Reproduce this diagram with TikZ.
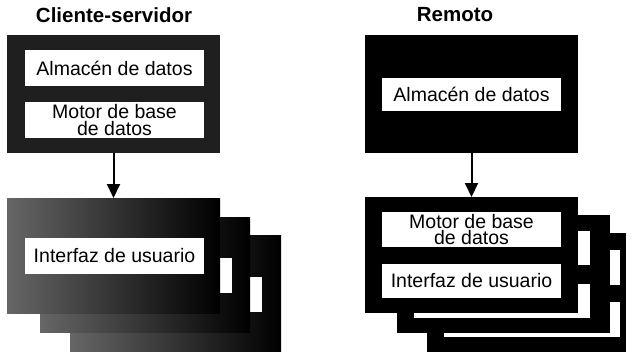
\documentclass[tikz,border=0pt]{standalone}
\usepackage{fontspec}
\setmainfont{Liberation Sans}
\usetikzlibrary{arrows.meta}
\begin{document}
\begin{tikzpicture}[x=1pt,y=-1pt,
  panel/.style={draw=none, fill=black, inner sep=0pt, outer sep=0pt, anchor=north west},
  greypanel/.style={panel, left color=black!60, right color=black},
  darkpanel/.style={panel, fill=black!88},
  whitebox/.style={fill=white, draw=none, inner sep=0pt, outer sep=0pt, anchor=north west},
  lbl/.style={whitebox, minimum width=179pt, minimum height=36pt, align=center, text=black,
    font=\fontsize{19.5}{16.5}\selectfont},
  title/.style={font=\fontsize{20.5}{24}\selectfont\bfseries, inner sep=0pt},
  link/.style={line width=2pt, -{Triangle[length=14pt,width=13pt]}}
]
\useasboundingbox (0,0) rectangle (636,351);
\clip (0,0) rectangle (636,351);

% ---------- left column: Cliente-servidor ----------
\node[title] (ltitle) at (114,15) {Cliente-servidor};
\node[darkpanel, minimum width=213pt, minimum height=118pt] (ltop) at (7,35) {};
\node[lbl] (lstore) at (25,50) {Almacén de datos};
\node[lbl] (lengine) at (25,102) {Motor de base\\de datos};

% stack (back to front)
\node[greypanel, minimum width=211pt, minimum height=120pt] (lback2) at (70,235) {};
\node[whitebox, minimum width=174pt, minimum height=35pt] (lback2ui) at (88,277) {};
\node[greypanel, minimum width=210pt, minimum height=115pt] (lback1) at (40,217) {};
\node[whitebox, minimum width=174pt, minimum height=35pt] (lback1ui) at (58,258) {};
\node[greypanel, minimum width=213pt, minimum height=115pt] (lfront) at (7,198) {};
\node[lbl] (lui) at (25,238) {Interfaz de usuario};

\draw[link] (ltop.south) -- (lfront.north);

% ---------- right column: Remoto ----------
\node[title] (rtitle) at (455,15) {Remoto};
\node[panel, minimum width=213pt, minimum height=118pt] (rtop) at (365,35) {};
\node[lbl, minimum height=33pt] (rstore) at (382,78) {Almacén de datos};

% stack (back to front)
\node[panel, minimum width=199pt, minimum height=122pt] (rback2) at (427,233) {};
\node[whitebox, minimum width=176pt, minimum height=35pt] (rback2en) at (444,250) {};
\node[whitebox, minimum width=176pt, minimum height=35pt] (rback2ui) at (444,302) {};
\node[panel, minimum width=213pt, minimum height=118pt] (rback1) at (397,215) {};
\node[whitebox, minimum width=176pt, minimum height=34pt] (rback1en) at (414,231) {};
\node[whitebox, minimum width=176pt, minimum height=34pt] (rback1ui) at (414,284) {};
\node[panel, minimum width=213pt, minimum height=116pt] (rfront) at (365,197) {};
\node[lbl, minimum height=35pt] (rengine) at (382,212) {Motor de base\\de datos};
\node[lbl, minimum height=34pt] (rui) at (382,264) {Interfaz de usuario};

\draw[link] (rtop.south) -- (rfront.north);
\end{tikzpicture}
\end{document}
